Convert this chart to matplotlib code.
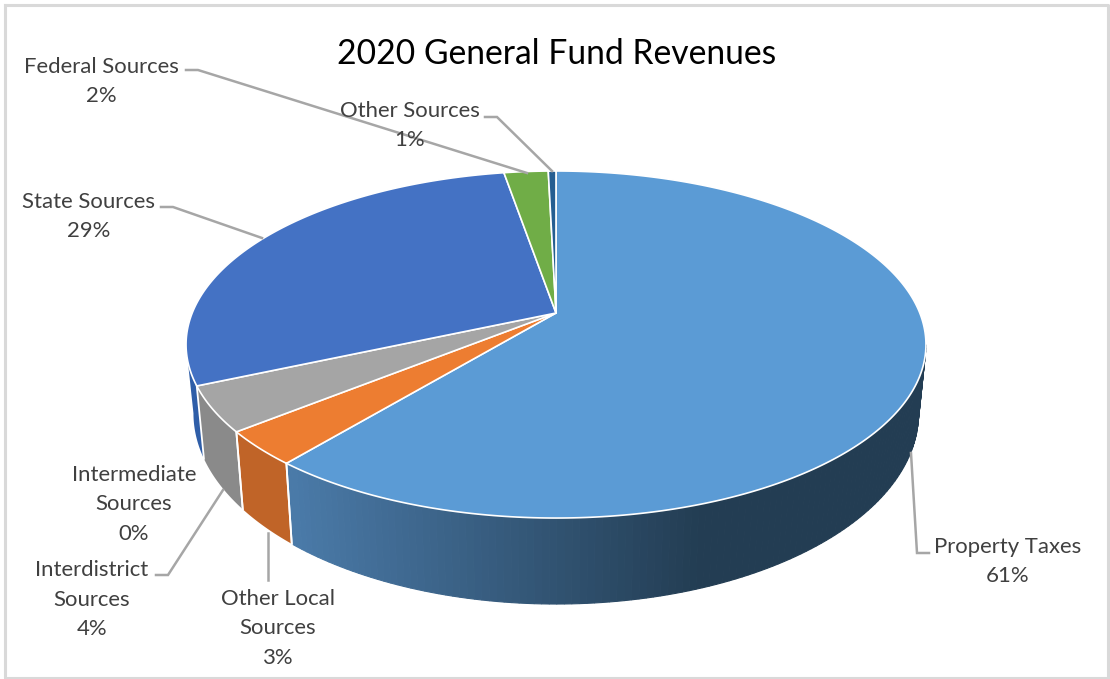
#! /usr/bin/env python3
import numpy as np
import matplotlib
matplotlib.use('Agg')
import matplotlib.pyplot as plt
from matplotlib.colors import to_rgb

plt.rcParams['font.family'] = ['Lato', 'DejaVu Sans']

# slices, clockwise from 12 o'clock
names = ['Property Taxes', 'Other Local\nSources', 'Interdistrict\nSources',
         'Intermediate\nSources', 'State Sources', 'Federal Sources', 'Other Sources']
shares = [61.0, 3.2, 4.2, 0.0, 28.9, 2.3, 0.4]
shown = ['61%', '3%', '4%', '0%', '29%', '2%', '1%']
top_colors = ['#5b9bd5', '#ed7d31', '#a5a5a5', '#ffc000', '#4472c4', '#70ad47', '#255e91']
wall_colors = ['#4a7aa8', '#c06428', '#8a8a8a', '#b08600', '#2f5ea8', '#4d7a31', '#1a4266']

# where each label sits and its leader line (pixels)
label_xy = [(1008, 561.5), (278, 628.5), (92, 599.5), (134, 504.5), (89, 216.5), (101, 81.5), (410, 125.5)]
leaders = [[(911, 453), (917, 553), (929, 553)],
           [(268, 533), (268, 580)],
           [(223, 490), (168, 575), (156, 575)],
           None,
           [(262, 238), (173, 207), (161, 207)],
           [(527, 173), (198, 70), (186, 70)],
           [(552, 171), (497, 117), (485, 117)]]

cx, cy = 556., 313.
k = 0.1816
Rx, Ry = 363.8, 167.8


# perspective view of the pie disc, th is clockwise from the top in degrees
def project(th, bottom=False):
    u = np.sin(np.radians(th))
    v = np.cos(np.radians(th))
    w = 1 + k*v
    x = Rx*u/w
    y = -Ry*v/w
    if bottom:
        return cx + 0.98*x, 378.5 + 1.1*y
    return cx + x, cy + y


def wall(ax, th1, th2, color, edge=True):
    th = np.linspace(th1, th2, 40)
    xt, yt = project(th)
    xb, yb = project(th, True)
    ax.fill(np.r_[xt, xb[::-1]], np.r_[yt, yb[::-1]], color=color, lw=0)
    if edge:
        ax.plot([xt[0], xb[0]], [yt[0], yb[0]], color='white', lw=1.3)
        ax.plot([xt[-1], xb[-1]], [yt[-1], yb[-1]], color='white', lw=1.3)


fig = plt.figure(figsize=(11.10, 6.79), dpi=100)
ax = fig.add_axes([0, 0, 1, 1])
ax.set_xlim(0, 1110)
ax.set_ylim(679, 0)
ax.axis('off')

# picture frame
ax.plot([5, 1107.5, 1107.5, 5, 5], [5, 5, 677.5, 677.5, 5], color='#d9d9d9', lw=2.2)

bounds = np.r_[0, np.cumsum(shares)]/np.sum(shares)*360.
th_right, th_left = 100.5, 259.5

# side walls, only the front half shows
c1, c2 = np.array(to_rgb('#4a7aa8')), np.array(to_rgb('#233d53'))
edges = np.linspace(th_right, bounds[1], 121)
for a, b in zip(edges[:-1], edges[1:]):
    xm = project(0.5*(a + b))[0]
    t = np.clip((700. - xm)/(700. - 293.), 0, 1)
    th = np.array([a, b])
    xt, yt = project(th)
    xb, yb = project(th, True)
    ax.fill(np.r_[xt, xb[::-1]], np.r_[yt, yb[::-1]], color=c2 + t*(c1 - c2), lw=0.8)
xt, yt = project(bounds[1])
xb, yb = project(bounds[1], True)
ax.plot([xt, xb], [yt, yb], color='white', lw=1.3)

wall(ax, bounds[1], bounds[2], wall_colors[1])
wall(ax, bounds[2], bounds[3], wall_colors[2])
wall(ax, bounds[4], th_left, wall_colors[4], edge=False)

# top faces
for i in range(len(shares)):
    if shares[i] == 0:
        continue
    th = np.linspace(bounds[i], bounds[i + 1], 300)
    x, y = project(th)
    ax.fill(np.r_[cx, x], np.r_[cy, y], facecolor=top_colors[i], edgecolor='white', lw=1.2,
            joinstyle='round')

for pts in leaders:
    if pts is None:
        continue
    ax.plot(*zip(*pts), color='#a6a6a6', lw=1.8, solid_joinstyle='miter')

for name, pct, (x, y) in zip(names, shown, label_xy):
    ax.text(x, y, name + '\n' + pct, ha='center', va='center', fontsize=15.9, color='#404040',
            linespacing=1.57)

ax.text(556.5, 53.5, '2020 General Fund Revenues', ha='center', va='center', fontsize=24.2,
        color='black')

fig.savefig('out.png', dpi=100)
